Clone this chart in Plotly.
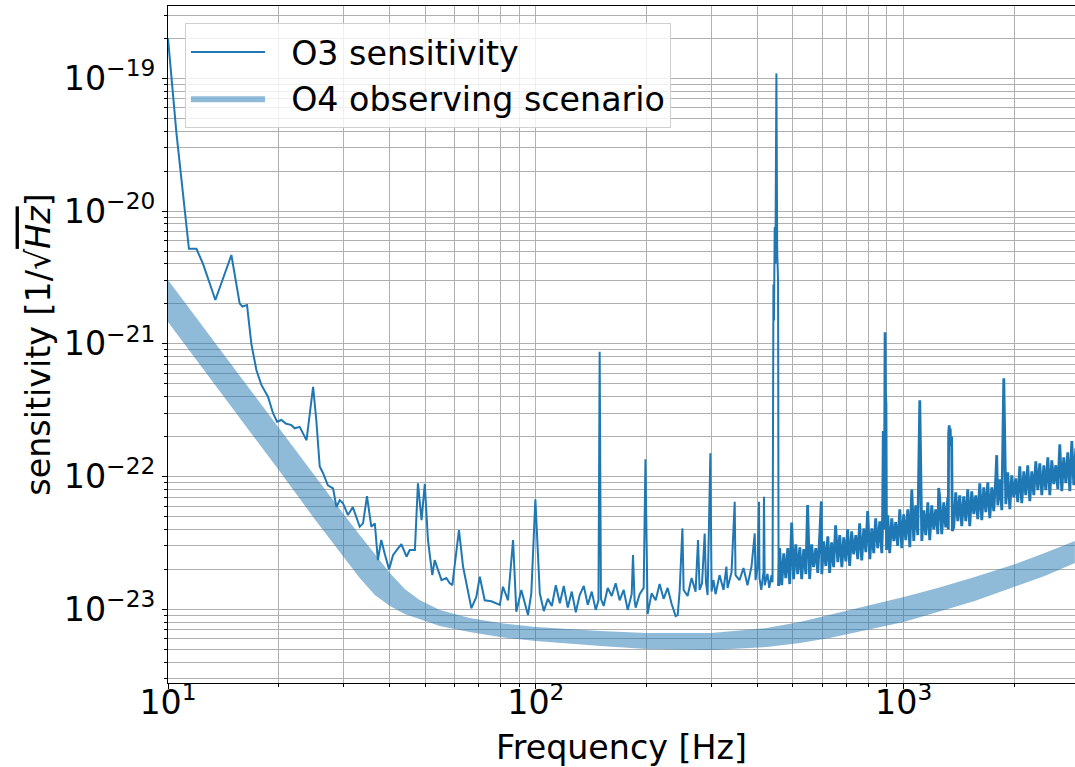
import plotly.graph_objects as go

# ---------------- data ----------------
# O3 sensitivity, low / mid frequency part
o3_freq_low = [
    10.0, 10.54, 11.4, 11.95, 12.45, 12.98, 13.45, 14.87, 15.66, 15.93, 16.4, 16.85, 17.39, 17.94,
    18.7, 19.3, 19.79, 20.34, 20.9, 21.65, 22.1, 22.8, 23.8, 24.8, 25.3, 25.85, 26.4, 27.2, 28.1,
    28.7, 29.3, 29.9, 30.85, 31.8, 33.2, 33.9, 34.75, 35.7, 36.5, 37.2, 38.0, 38.8, 39.9, 40.9,
    41.9, 43.1, 44.5, 45.4, 46.9, 47.8, 48.9, 49.9, 50.9, 52.3, 53.1, 55.4, 57.1, 58.3, 59.3,
    59.8, 61.8, 63.4, 66.8, 68.9, 70.4, 72.6, 75.7, 79.8, 81.4, 84.0, 86.7, 88.5, 91.3, 95.2,
    97.2, 99.7, 102.5, 105.1, 107.8, 110.5, 113.3, 116.2, 119.1, 122.1, 125.2, 128.4, 131.6,
    135.0, 138.4, 141.9, 145.5, 148.0, 149.1, 150.3, 152.9, 156.8, 160.8, 164.8, 169.0, 173.3,
    177.7, 182.2, 183.7, 185.5, 186.8, 191.5, 196.4, 198.6, 201.3, 206.4, 211.7, 217.0, 222.5,
    228.2, 233.9, 239.9, 243.0, 245.9, 250.3, 252.2, 258.5, 265.1, 271.8, 276.0, 278.7, 283.0,
    287.7, 290.0, 293.0, 298.2, 300.4, 304.0, 308.0, 315.8, 323.8, 329.6, 332.0, 340.4, 347.2,
    349.0, 357.8, 366.9, 376.2, 385.7, 393.6, 395.5, 400.0, 404.3, 405.5, 410.0, 415.7, 417.1,
    419.0, 426.3, 431.0, 437.1, 440.0, 442.5, 444.0, 446.0, 448.0, 450.8, 453.0, 455.5, 457.0,
]
o3_asd_low = [
    2.0e-19, 3.9e-20, 5.2e-21, 5.2e-21, 4.0e-21, 2.86e-21, 2.14e-21, 4.67e-21, 2.02e-21, 1.91e-21,
    1.96e-21, 1.0e-21, 6.35e-22, 4.9e-22, 4.0e-22, 3.0e-22, 2.59e-22, 2.67e-22, 2.51e-22, 2.44e-22,
    2.31e-22, 2.37e-22, 1.88e-22, 4.75e-22, 2.67e-22, 1.19e-22, 1.06e-22, 8.6e-23, 8.15e-23,
    5.9e-23, 6.65e-23, 6.3e-23, 5.13e-23, 5.9e-23, 4.19e-23, 4.44e-23, 7.13e-23, 4.19e-23,
    4.44e-23, 2.35e-23, 3.33e-23, 2.64e-23, 2.0e-23, 2.56e-23, 2.8e-23, 3.1e-23, 2.49e-23,
    2.8e-23, 2.8e-23, 8.9e-23, 4.7e-23, 8.8e-23, 3.33e-23, 1.81e-23, 2.35e-23, 1.66e-23,
    1.72e-23, 1.58e-23, 1.52e-23, 1.87e-23, 3.95e-23, 2.1e-23, 1.02e-23, 1.24e-23, 1.76e-23,
    1.17e-23, 1.15e-23, 1.08e-23, 1.48e-23, 1.17e-23, 3.33e-23, 9.6e-24, 1.4e-23, 9.06e-24,
    1.32e-23, 6.75e-23, 1.32e-23, 9.7e-24, 1.2e-23, 1.06e-23, 1.52e-23, 1.11e-23, 1.5e-23,
    1.03e-23, 1.36e-23, 9.5e-24, 1.28e-23, 1.5e-23, 1.08e-23, 1.36e-23, 9.9e-24, 1.17e-23,
    8.7e-22, 1.2e-23, 1.06e-23, 1.45e-23, 1.26e-23, 1.57e-23, 1.17e-23, 1.4e-23, 9.9e-24,
    1.3e-23, 2.56e-23, 1.17e-23, 1.03e-23, 1.3e-23, 1.45e-23, 1.35e-22, 9.2e-24, 1.32e-23,
    1.17e-23, 1.55e-23, 1.2e-23, 1.45e-23, 1.1e-23, 8.9e-24, 9.06e-24, 1.36e-23, 4.07e-23,
    1.4e-23, 1.26e-23, 1.72e-23, 1.36e-23, 3.33e-23, 1.4e-23, 1.57e-23, 3.73e-23, 1.6e-23,
    1.28e-23, 1.5e-22, 1.36e-23, 1.66e-23, 1.3e-23, 1.81e-23, 1.4e-23, 2.1e-23, 1.45e-23,
    1.9e-23, 6.45e-23, 1.81e-23, 1.66e-23, 2.05e-23, 1.52e-23, 2.1e-23, 3.73e-23, 1.66e-23,
    2.0e-23, 6.45e-23, 1.72e-23, 1.4e-23, 1.9e-23, 7.05e-23, 1.52e-23, 1.85e-23, 1.45e-23,
    1.81e-23, 1.6e-23, 2.8e-21, 1.5e-21, 7.6e-21, 4.0e-21, 1.09e-19, 5.0e-21, 3.0e-21, 1.5e-23,
]
# O3 sensitivity, high frequency part (dense noise band with lines)
o3_freq_high = [
    460, 466, 472, 478, 484, 490, 496, 502, 509, 515, 522, 528, 535, 542, 548, 555, 562, 569,
    577, 584, 591, 597, 599, 606, 614, 622, 629, 637, 645, 653, 662, 670, 679, 687, 696, 704,
    713, 722, 731, 741, 750, 759, 769, 779, 789, 798, 809, 819, 829, 839, 850, 861, 872, 876,
    880, 883, 886, 890, 892, 895, 898, 905, 916, 928, 940, 951, 963, 976, 988, 1000, 1013,
    1026, 1039, 1052, 1065, 1078, 1092, 1106, 1120, 1134, 1148, 1163, 1177, 1192, 1207, 1222,
    1238, 1245, 1253, 1269, 1285, 1301, 1318, 1322, 1325, 1330, 1334, 1338, 1342, 1350, 1356,
    1368, 1385, 1403, 1420, 1438, 1456, 1475, 1493, 1512, 1531, 1551, 1570, 1590, 1610, 1630,
    1651, 1672, 1693, 1714, 1736, 1757, 1780, 1790, 1802, 1825, 1848, 1871, 1895, 1918, 1943,
    1967, 1992, 2017, 2042, 2068, 2094, 2121, 2147, 2174, 2202, 2230, 2258, 2286, 2315, 2344,
    2374, 2404, 2434, 2465, 2496, 2527, 2559, 2591, 2624, 2657, 2690, 2724, 2759, 2793, 2829,
    2864, 2900, 2937,
]
o3_asd_high = [
    2.89e-23, 1.52e-23, 2.64e-23, 1.72e-23, 2.89e-23, 1.55e-23, 4.5e-23, 1.69e-23, 3.09e-23,
    1.84e-23, 2.93e-23, 1.69e-23, 2.84e-23, 1.84e-23, 6.1e-23, 1.69e-23, 3.09e-23, 2.08e-23,
    2.89e-23, 1.88e-23, 3.55e-23, 6.5e-23, 1.84e-23, 3.25e-23, 2.12e-23, 3.55e-23, 1.88e-23,
    3.20e-23, 2.08e-23, 4.3e-23, 2.27e-23, 3.62e-23, 2.08e-23, 3.49e-23, 2.30e-23, 4.01e-23,
    2.12e-23, 3.87e-23, 2.60e-23, 3.62e-23, 2.39e-23, 4.45e-23, 2.34e-23, 4.08e-23, 2.70e-23,
    5.5e-23, 2.39e-23, 4.08e-23, 2.65e-23, 4.85e-23, 2.89e-23, 4.60e-23, 2.65e-23, 4.3e-23,
    2.2e-22, 1.9e-22, 4.0e-23, 1.22e-21, 4.2e-22, 3.5e-22, 2.8e-23, 5.10e-23, 2.65e-23,
    4.85e-23, 3.27e-23, 4.53e-23, 3.0e-23, 5.67e-23, 2.89e-23, 5.20e-23, 3.32e-23,
    5.67e-23, 2.94e-23, 8.0e-23, 3.27e-23, 6.08e-23, 3.62e-23, 3.75e-22, 3.27e-23, 5.57e-23,
    3.62e-23, 6.40e-23, 3.32e-23, 6.08e-23, 4.01e-23, 5.67e-23,
    3.68e-23, 8.2e-23, 6.98e-23, 3.68e-23, 6.40e-23, 4.15e-23, 6.98e-23, 4.0e-23, 2.1e-22,
    2.43e-22, 1.8e-22, 2.3e-22, 1.7e-22, 2.0e-22, 3.9e-23,
    4.15e-23, 7.61e-23, 4.61e-23, 7.22e-23, 4.23e-23, 7.10e-23, 4.61e-23, 8.01e-23, 4.23e-23,
    7.75e-23, 5.21e-23, 7.22e-23, 4.78e-23, 8.90e-23, 4.69e-23,
    8.30e-23, 5.39e-23, 9.05e-23, 4.86e-23, 8.30e-23, 5.49e-23, 9.88e-23, 1.45e-22, 6.08e-23,
    9.54e-23, 5.58e-23, 5.5e-22, 6.19e-23, 1.077e-22, 5.68e-23,
    1.023e-22, 6.99e-23, 9.70e-23, 6.41e-23, 1.195e-22, 6.30e-23, 1.096e-22, 7.24e-23, 1.217e-22,
    6.52e-23, 1.096e-22, 7.24e-23, 1.303e-22, 7.89e-23, 1.259e-22,
    7.24e-23, 1.217e-22, 7.89e-23, 1.397e-22, 7.24e-23, 1.327e-22, 8.76e-23, 1.217e-22, 8.03e-23,
    1.75e-22, 7.76e-23, 1.397e-22, 8.92e-23, 1.524e-22, 7.76e-23,
    1.85e-22, 8.61e-23, 1.634e-22,
]

# O4 observing scenario band (upper / lower edges)
o4_freq = [10, 15, 20, 25, 29.3, 33.2, 36.5, 40.1, 44.0, 48.3, 54.8, 66.1, 79.8, 100, 150,
           200, 300, 424, 522, 629, 793, 1000, 1237, 1560, 2003, 2417, 2920]
o4_upper = [3.02e-21, 6.75e-22, 2.32e-22, 1.01e-22, 5.69e-23, 3.63e-23, 2.61e-23, 1.88e-23,
            1.42e-23, 1.175e-23, 9.88e-24, 8.6e-24, 7.88e-24, 7.36e-24, 6.86e-24, 6.63e-24,
            6.63e-24, 7.23e-24, 8.02e-24, 9.06e-24, 1.059e-23, 1.238e-23, 1.447e-23, 1.75e-23,
            2.19e-23, 2.655e-23, 3.27e-23]
o4_lower = [1.46e-21, 3.25e-22, 1.12e-22, 4.82e-23, 2.70e-23, 1.72e-23, 1.28e-23, 1.06e-23,
            9.22e-24, 8.45e-24, 7.48e-24, 6.75e-24, 6.18e-24, 5.77e-24, 5.29e-24, 5.02e-24,
            4.94e-24, 5.2e-24, 5.57e-24, 6.08e-24, 6.98e-24, 8.02e-24, 9.54e-24, 1.155e-23,
            1.47e-23, 1.78e-23, 2.23e-23]

x_tick_vals = [10, 100, 1000]
x_tick_text = ["10<sup>1</sup>", "10<sup>2</sup>", "10<sup>3</sup>"]
y_tick_vals = [1e-23, 1e-22, 1e-21, 1e-20, 1e-19]
y_tick_text = ["10<sup>\u221223</sup>", "10<sup>\u221222</sup>", "10<sup>\u221221</sup>",
               "10<sup>\u221220</sup>", "10<sup>\u221219</sup>"]

# ---------------- figure ----------------
FONT = "DejaVu Sans"
C0 = "#1f77b4"
GRID = "#b0b0b0"
FS = 33.3

x_minor = [m * 10.0 ** e for e in (1, 2, 3) for m in range(2, 10)]
y_minor = [m * 10.0 ** e for e in range(-24, -18) for m in range(2, 10)]

fig = go.Figure()
# O3 curve: one series, drawn in two pieces (the dense high-frequency part slightly bolder)
fig.add_trace(go.Scatter(
    x=o3_freq_low, y=o3_asd_low, mode="lines",
    name="\u00a0\u00a0O3 sensitivity",
    line=dict(color=C0, width=2, simplify=False),
))
fig.add_trace(go.Scatter(
    x=o3_freq_low[-1:] + o3_freq_high, y=o3_asd_low[-1:] + o3_asd_high, mode="lines",
    name="\u00a0\u00a0O3 sensitivity", showlegend=False,
    line=dict(color=C0, width=2.8, simplify=False),
))
fig.add_trace(go.Scatter(
    x=o4_freq + o4_freq[::-1], y=o4_upper + o4_lower[::-1],
    mode="lines", fill="toself", fillcolor="rgba(31,119,180,0.5)",
    line=dict(width=0, color="rgba(31,119,180,0.5)"),
    name="\u00a0\u00a0O4 observing scenario",
))

axis_common = dict(
    type="log", showline=True, linecolor="black", linewidth=1.1,
    ticks="outside", ticklen=5, tickwidth=1.1, tickcolor="black",
    showgrid=True, gridcolor=GRID, gridwidth=1.1, zeroline=False,
    tickfont=dict(family=FONT, size=FS, color="black"),
    tickmode="array",
)

fig.update_layout(
    width=1075, height=767,
    margin=dict(l=168, r=0, t=6, b=84),
    paper_bgcolor="white", plot_bgcolor="white",
    font=dict(family=FONT, color="black"),
    xaxis=dict(
        **axis_common, range=[1, 3.4657], mirror=True,
        tickvals=x_tick_vals, ticktext=x_tick_text,
        ticklabelstandoff=-15,
        minor=dict(tickmode="array", tickvals=x_minor, ticks="outside", ticklen=3,
                   tickcolor="black", showgrid=True, gridcolor=GRID, gridwidth=1.1),
        title=dict(text="Frequency [Hz]", font=dict(family=FONT, size=FS, color="black"),
                   standoff=21),
    ),
    yaxis=dict(
        **axis_common, range=[-23.555, -18.455],
        tickvals=y_tick_vals, ticktext=y_tick_text,
        minor=dict(tickmode="array", tickvals=y_minor, ticks="outside", ticklen=3,
                   tickcolor="black", showgrid=True, gridcolor=GRID, gridwidth=1.1),
        title=dict(text='sensitivity [1/\u221a<span style="text-decoration:overline"><i>Hz</i></span>]',
                   font=dict(family=FONT, size=FS, color="black"), standoff=3),
    ),
    legend=dict(
        x=0.0187, y=0.975, xanchor="left", yanchor="top",
        bgcolor="rgba(255,255,255,0.8)", bordercolor="#d0d0d0", borderwidth=1,
        font=dict(family=FONT, size=FS, color="black"), itemwidth=74, tracegroupgap=0,
    ),
    showlegend=True,
)

fig.write_html("out.html")
